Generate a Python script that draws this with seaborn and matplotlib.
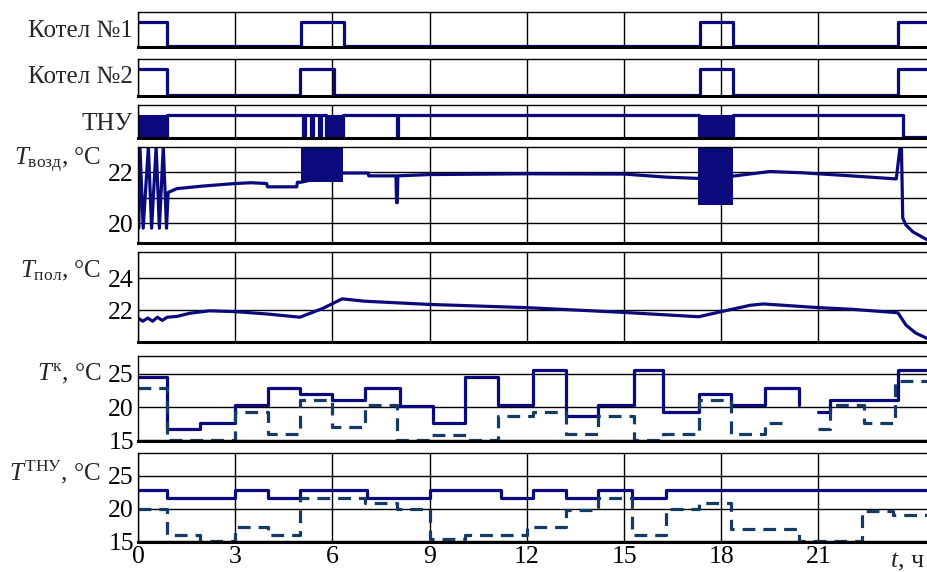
import numpy as np
import pandas as pd
import matplotlib.pyplot as plt
import seaborn as sns

# время, ч
T_END = 24.38
x_ticks = [0, 3, 6, 9, 12, 15, 18, 21]

# Котел №1, Котел №2 (1 - вкл, 0 - выкл)
k1_t = [0, 0.9, 5.03, 6.36, 17.35, 18.36, 23.46]
k1_v = [1, 0, 1, 0, 1, 0, 1]
k2_t = [0, 0.9, 5.0, 6.05, 17.35, 18.36, 23.46]
k2_v = [1, 0, 1, 0, 1, 0, 1]

# ТНУ
thu_t = [0, 0.9, 5.1, 5.15, 5.35, 5.4, 5.6, 5.65, 5.8, 6.33, 7.98, 8.03, 17.3, 18.36, 23.6]
thu_v = [0, 1, 0, 1, 0, 1, 0, 1, 0, 1, 0, 1, 0, 1, 0]
thu_dense_start = [0.0, 5.8, 17.3]
thu_dense_end = [0.9, 6.33, 18.36]

# Температура воздуха
vozd_t = [0, 0.02, 0.06, 0.16, 0.32, 0.42, 0.56, 0.66, 0.78, 0.88, 0.93, 1.2, 2.0, 3.0, 3.5,
          3.97, 4.0, 4.9, 4.92, 5.03, 6.33, 7.1, 7.12, 7.96, 7.98, 8.0, 8.02, 9.0, 12.0, 15.0,
          16.3, 17.28, 18.36, 19.5, 20.5, 22.0, 23.4, 23.52, 23.56, 23.6, 23.7, 23.92, 24.38]
vozd_v = [23.0, 19.8, 23.0, 19.8, 23.0, 19.8, 23.0, 19.8, 23.0, 19.8, 21.2, 21.35, 21.45, 21.55, 21.58,
          21.55, 21.42, 21.42, 21.6, 21.6, 21.96, 21.96, 21.85, 21.85, 20.8, 20.8, 21.85, 21.9, 21.93, 21.92,
          21.8, 21.75, 21.84, 22.02, 21.97, 21.85, 21.73, 23.0, 23.0, 20.2, 19.92, 19.65, 19.33]
vozd_band_t0 = [5.03, 17.28]
vozd_band_t1 = [6.33, 18.36]
vozd_band_lo = [21.6, 20.7]
vozd_band_hi = [23.0, 23.0]

# Температура пола
pol_t = [0, 0.15, 0.3, 0.45, 0.6, 0.75, 0.9, 1.2, 1.6, 2.2, 3.0, 4.0, 5.0, 5.7, 6.3, 7.0, 9.0,
         12.0, 15.0, 17.3, 18.0, 18.9, 19.3, 21.0, 22.0, 23.45, 23.7, 24.0, 24.38]
pol_v = [21.5, 21.3, 21.5, 21.3, 21.55, 21.35, 21.55, 21.6, 21.8, 21.95, 21.9, 21.75, 21.55, 22.1, 22.7,
         22.55, 22.35, 22.15, 21.85, 21.58, 21.9, 22.3, 22.38, 22.15, 22.05, 21.83, 21.06, 20.56, 20.2]

# T^к: сплошная и штриховая (два участка)
tk_s1_t = [0, 0.9, 1.9, 3.0, 4.0, 5.0, 6.0, 7.0, 8.1, 9.1, 10.1, 11.1, 12.2, 13.2, 14.2, 15.3, 16.2,
           17.3, 18.3, 19.35, 20.4]
tk_s1_v = [24.5, 16.7, 17.6, 20.3, 22.9, 22.0, 21.1, 22.9, 20.2, 17.6, 24.5, 20.3, 25.6, 18.6, 20.3,
           25.6, 19.3, 22.0, 20.3, 22.9, 20.3]
tk_s2_t = [21.0, 21.35, 23.45]
tk_s2_v = [19.3, 21.0, 25.6]
tk_d1_t = [0, 0.9, 3.0, 4.0, 5.0, 6.0, 7.0, 8.0, 9.0, 10.15, 11.1, 12.2, 13.2, 14.2, 15.3, 16.2,
           17.3, 18.3, 19.35]
tk_d1_v = [22.9, 15.0, 19.3, 16.0, 21.0, 17.0, 20.3, 15.0, 15.8, 15.0, 18.7, 19.3, 16.0, 18.6, 15.0,
           16.0, 21.1, 16.0, 17.6]
tk_d2_t = [21.0, 21.35, 22.4, 23.36]
tk_d2_v = [16.7, 20.3, 17.6, 23.9]

# T^ТНУ: сплошная и штриховая
tt_s_t = [0, 0.9, 3.0, 4.0, 5.0, 7.07, 9.0, 11.2, 12.2, 13.2, 14.2, 15.25, 16.3]
tt_s_v = [22.9, 21.7, 22.9, 21.7, 22.9, 21.7, 22.9, 21.7, 22.9, 21.7, 22.9, 21.7, 22.9]
tt_d_t = [0, 0.9, 1.9, 3.0, 4.0, 5.0, 7.0, 8.0, 9.0, 10.1, 12.0, 13.2, 14.2, 15.25, 16.3, 17.3,
          18.3, 20.4, 22.35, 23.3]
tt_d_v = [19.9, 16.0, 15.1, 17.2, 16.0, 21.7, 20.9, 20.0, 15.3, 15.9, 17.2, 19.8, 21.7, 15.9, 20.0,
          20.8, 16.9, 15.1, 19.6, 19.0]

NAVY = '#0a0a7d'
DASH = '#153a63'
LW = 2.3

sns.set_theme(style='white')
plt.rcParams['font.family'] = ['Liberation Serif', 'DejaVu Serif']
plt.rcParams['mathtext.fontset'] = 'custom'
plt.rcParams['mathtext.rm'] = 'Liberation Serif'
plt.rcParams['mathtext.it'] = 'Liberation Serif:italic'


def step_df(segments):
    rows = []
    for i, (t, v, end) in enumerate(segments):
        rows.append(pd.DataFrame({'t': list(t) + [end], 'v': list(v) + [v[-1]], 'seg': i}))
    return pd.concat(rows, ignore_index=True)


def steps(ax, segments, color=NAVY, ls='-'):
    sns.lineplot(data=step_df(segments), x='t', y='v', units='seg', estimator=None, sort=False,
                 drawstyle='steps-post', color=color, lw=LW, linestyle=ls, ax=ax)


fig = plt.figure(figsize=(9.28, 5.72), dpi=100)
W, H = 928, 572
x0 = 138
panels_px = [(12, 47), (59, 96), (105, 138), (147, 243), (252, 342), (356, 441), (453, 542)]
axes = []
for top, bot in panels_px:
    ax = fig.add_axes([x0 / W, 1 - bot / H, (W - x0) / W, (bot - top) / H])
    axes.append(ax)

steps(axes[0], [(k1_t, k1_v, T_END)])
steps(axes[1], [(k2_t, k2_v, T_END)])
steps(axes[2], [(thu_t, thu_v, T_END)])
for s, e in zip(thu_dense_start, thu_dense_end):
    axes[2].fill_between([s, e], 0, 1, color=NAVY, lw=0)

sns.lineplot(x=vozd_t, y=vozd_v, estimator=None, sort=False, color=NAVY, lw=LW, ax=axes[3])
for s, e, lo, hi in zip(vozd_band_t0, vozd_band_t1, vozd_band_lo, vozd_band_hi):
    axes[3].fill_between([s, e], lo, hi, color=NAVY, lw=0)

sns.lineplot(x=pol_t, y=pol_v, estimator=None, sort=False, color=NAVY, lw=LW, ax=axes[4])

dash_ls = (0, (4, 2.5))
steps(axes[5], [(tk_s1_t, tk_s1_v, 20.4), (tk_s2_t, tk_s2_v, T_END)])
steps(axes[5], [(tk_d1_t, tk_d1_v, 20.0), (tk_d2_t, tk_d2_v, T_END)], color=DASH, ls=dash_ls)
steps(axes[6], [(tt_s_t, tt_s_v, T_END)])
steps(axes[6], [(tt_d_t, tt_d_v, T_END)], color=DASH, ls=dash_ls)

ylims = [(-0.04, 1.42), (-0.04, 1.38), (-0.045, 1.45), (19.22, 22.98), (20.0, 25.63),
         (14.9, 27.7), (14.9, 28.5)]
yticks = [[], [], [], [20, 21, 22], [22, 24], [15, 20, 25], [15, 20, 25]]
ylabels = [[], [], [], ['20', '', '22'], ['22', '24'], ['15', '20', '25'], ['15', '20', '25']]
xgrid = [True, True, True, True, True, False, True]

for i, ax in enumerate(axes):
    ax.set(xlabel='', ylabel='')
    ax.set_xlim(0, T_END)
    ax.set_ylim(*ylims[i])
    ax.set_xticks(x_ticks)
    ax.set_yticks(yticks[i], labels=ylabels[i])
    ax.tick_params(length=0, labelsize=18.5, pad=3, colors='black')
    if i < 6:
        ax.tick_params(axis='x', labelbottom=False)
    ax.grid(False)
    if xgrid[i]:
        ax.grid(axis='x', color='black', lw=1.0)
    if i >= 3:
        ax.grid(axis='y', color='black', lw=1.0)
    ax.set_axisbelow(True)
    for side in ['top', 'left']:
        ax.spines[side].set_color('black')
        ax.spines[side].set_linewidth(1.0)
    ax.spines['bottom'].set_color('black')
    ax.spines['bottom'].set_linewidth(2.2)
    ax.spines['right'].set_visible(False)

axes[6].tick_params(axis='x', pad=3)

# подписи
for txt, base in [('Котел №1', 37), ('Котел №2', 83), ('ТНУ', 130)]:
    fig.text(133 / W, 1 - base / H, txt, ha='right', va='baseline', fontsize=18)
for txt, base in [(r'$T_{\rm возд}$, °C', 165), (r'$T_{\rm пол}$, °C', 277),
                  (r'$T^{\rm к}$, °C', 380), (r'$T^{\rm ТНУ}$, °C', 480)]:
    fig.text(101 / W, 1 - base / H, txt, ha='right', va='baseline', fontsize=18)
fig.text(924 / W, 1 - 567 / H, r'$t$, ч', ha='right', va='baseline', fontsize=18.5)

fig.savefig('out.png', dpi=100)
